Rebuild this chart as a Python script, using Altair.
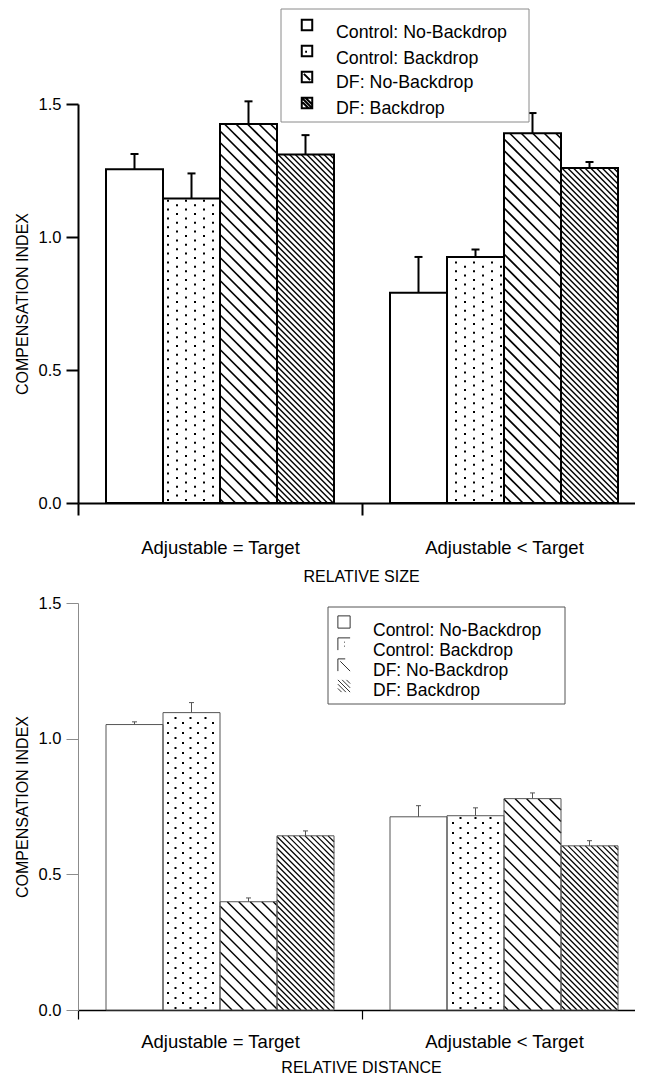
import altair as alt
import numpy as np
import pandas as pd

# ---------------- data ----------------
GROUPS = ["Adjustable = Target", "Adjustable < Target"]
CONDITIONS = ["Control: No-Backdrop", "Control: Backdrop", "DF: No-Backdrop", "DF: Backdrop"]

# top panel: RELATIVE SIZE
size_eq_mean = [1.255, 1.145, 1.425, 1.310]
size_eq_sem = [0.057, 0.094, 0.085, 0.073]
size_lt_mean = [0.790, 0.925, 1.390, 1.259]
size_lt_sem = [0.135, 0.028, 0.076, 0.023]

# bottom panel: RELATIVE DISTANCE
dist_eq_mean = [1.052, 1.096, 0.399, 0.642]
dist_eq_sem = [0.010, 0.037, 0.014, 0.018]
dist_lt_mean = [0.712, 0.716, 0.779, 0.605]
dist_lt_sem = [0.041, 0.029, 0.021, 0.019]

Y_TICKS = [0.0, 0.5, 1.0, 1.5]
Y_MAX = 1.5

# ---------------- layout / style ----------------
FONT = "Liberation Sans"
PLOT_W = 557
BAND_PX = 284.0
X_MAX = PLOT_W / BAND_PX
BAR_PAD = 28 / BAND_PX
BAR_W = 57 / BAND_PX


def bar_table(eq_mean, eq_sem, lt_mean, lt_sem, cap_half_px):
    cap_half = cap_half_px / BAND_PX
    rows = []
    for gi, (means, sems) in enumerate([(eq_mean, eq_sem), (lt_mean, lt_sem)]):
        for ci, cond in enumerate(CONDITIONS):
            x0 = gi + BAR_PAD + ci * BAR_W
            x1 = x0 + BAR_W
            xc = (x0 + x1) / 2
            m, s = means[ci], sems[ci]
            rows.append(dict(group=GROUPS[gi], cond=cond, x0=x0, x1=x1, xc=xc,
                             base=0.0, mean=m, top=m + s,
                             cap0=xc - cap_half, cap1=xc + cap_half))
    return pd.DataFrame(rows)


def hatch_table(bars, cond, spacing, H):
    sy = H / Y_MAX
    segs = []
    for r in bars[bars.cond == cond].itertuples():
        px0, px1 = r.x0 * BAND_PX, r.x1 * BAND_PX
        pyt, pyb = H - r.mean * sy, H
        k0 = int(np.floor((px0 - pyb) / spacing)) - 1
        k1 = int(np.ceil((px1 - pyt) / spacing)) + 1
        for k in range(k0, k1 + 1):
            c = k * spacing
            lo = max(pyt, px0 - c)
            hi = min(pyb, px1 - c)
            if hi - lo > 0.8:
                segs.append(dict(hx0=(lo + c) / BAND_PX, hx1=(hi + c) / BAND_PX,
                                 hy0=(H - lo) / sy, hy1=(H - hi) / sy))
    return pd.DataFrame(segs)


def dot_table(bars, cond, period, row_gap, H, margin=2.0):
    sy = H / Y_MAX
    pts = []
    for r in bars[bars.cond == cond].itertuples():
        px0, px1 = r.x0 * BAND_PX + margin, r.x1 * BAND_PX - margin
        pyt, pyb = H - r.mean * sy + margin, H - margin
        j0 = int(np.ceil(pyt / row_gap))
        j1 = int(np.floor(pyb / row_gap))
        for j in range(j0, j1 + 1):
            py = j * row_gap
            off = (period / 2) * (j % 2)
            i0 = int(np.ceil((px0 - off) / period))
            i1 = int(np.floor((px1 - off) / period))
            for i in range(i0, i1 + 1):
                px = i * period + off
                pts.append(dict(dx=px / BAND_PX, dy=(H - py) / sy))
    return pd.DataFrame(pts)


LABEL_EXPR = ("datum.value == 0.5 ? '%s' : (datum.value == 1.5 ? '%s' : '')"
              % (GROUPS[0], GROUPS[1]))
TICK_OPACITY = {"condition": {"test": "datum.value == 0.5 || datum.value == 1.5", "value": 0},
                "value": 1}

ONE = pd.DataFrame([{"k": 0}])


def legend_layers(leg):
    b = leg["box"]
    layers = [alt.Chart(ONE).mark_rect(fill="white", stroke=leg["stroke"], strokeWidth=1).encode(
        x=alt.value(b[0]), x2=alt.value(b[1]), y=alt.value(b[2]), y2=alt.value(b[3]))]
    for i, cond in enumerate(CONDITIONS):
        layers.append(alt.Chart(ONE).mark_point(
            filled=False, opacity=1, color=leg["sym_color"], strokeWidth=leg["sym_w"],
            size=leg["sym_size"], shape=leg["paths"][i]).encode(
            x=alt.value(leg["sx"]), y=alt.value(leg["sy"][i])))
        layers.append(alt.Chart(ONE).mark_text(
            align="left", baseline="middle", font=FONT, fontSize=leg["fs"], color="black",
            text=cond).encode(x=alt.value(leg["tx"]), y=alt.value(leg["ty"][i])))
    return layers


def panel(bars, H, st, x_title, leg):
    xs = alt.Scale(domain=[0, X_MAX], nice=False, zero=False)
    ys = alt.Scale(domain=[0, Y_MAX], nice=False)

    x_axis = alt.Axis(values=[0, 0.5, 1, 1.5], labelExpr=LABEL_EXPR, tickOpacity=TICK_OPACITY,
                      tickSize=st["xtick"], tickWidth=st["xtickw"], tickColor="black",
                      domainColor="black", domainWidth=st["xdomw"], grid=False,
                      labelFont=FONT, labelFontSize=18.5, labelColor="black",
                      labelPadding=st["xlabpad"], labelFlush=False, labelOverlap=False,
                      title=x_title, titleFont=FONT, titleFontSize=16, titleFontWeight="normal",
                      titleColor="black", titlePadding=st["xtitlepad"], titleX=363 - 80)
    y_axis = alt.Axis(values=Y_TICKS, format=".1f", tickSize=12, tickWidth=st["ytickw"],
                      tickColor=st["ycolor"], domainColor=st["ycolor"], domainWidth=st["ydomw"],
                      grid=False, labelFont=FONT, labelFontSize=16.5, labelColor="black",
                      labelPadding=5, labelFlush=False, labelOverlap=False,
                      title="COMPENSATION INDEX", titleFont=FONT, titleFontSize=16,
                      titleFontWeight="normal", titleColor="black", titlePadding=8)

    def X(f):
        return alt.X(f, scale=xs, axis=x_axis)

    def Y(f):
        return alt.Y(f, scale=ys, axis=y_axis)

    fills = alt.Chart(bars).mark_rect(fill="white", strokeWidth=0).encode(
        x=X("x0:Q"), x2="x1", y=Y("mean:Q"), y2="base")

    hatch1 = alt.Chart(hatch_table(bars, CONDITIONS[2], 11.5, H)).mark_rule(
        color="black", strokeWidth=st["hatchw"]).encode(
        x=X("hx0:Q"), x2="hx1", y=Y("hy0:Q"), y2="hy1")
    hatch2 = alt.Chart(hatch_table(bars, CONDITIONS[3], 5.75, H)).mark_rule(
        color="black", strokeWidth=st["hatchw2"]).encode(
        x=X("hx0:Q"), x2="hx1", y=Y("hy0:Q"), y2="hy1")
    dots = alt.Chart(dot_table(bars, CONDITIONS[1], st["dot_period"], st["dot_row"], H)).mark_square(
        size=4, color="black", opacity=1).encode(x=X("dx:Q"), y=Y("dy:Q"))

    outline = alt.Chart(bars).mark_rect(fillOpacity=0, stroke=st["bar_stroke"],
                                        strokeWidth=st["bar_w"]).encode(
        x=X("x0:Q"), x2="x1", y=Y("mean:Q"), y2="base")
    err = alt.Chart(bars).mark_rule(color=st["bar_stroke"], strokeWidth=st["err_w"]).encode(
        x=X("xc:Q"), y=Y("mean:Q"), y2="top")
    cap = alt.Chart(bars).mark_rule(color=st["bar_stroke"], strokeWidth=st["err_w"]).encode(
        x=X("cap0:Q"), x2="cap1", y=Y("top:Q"))

    return alt.layer(fills, hatch1, hatch2, dots, outline, err, cap,
                     *legend_layers(leg)).properties(width=PLOT_W, height=H)


SQ = "M-1,-1H1V1H-1Z"
top_leg = dict(
    box=(203, 451, -95, 18),
    sx=229, sy=[-79, -53, -27, -1], tx=258, ty=[-71, -45, -21, 5],
    paths=[SQ, SQ + "M-0.35,0.15h0.35", SQ + "M-0.6,-0.6L0.6,0.6",
           SQ + "M-1,-0.3L0.3,1M-1,-1L1,1M-0.3,-1L1,0.3"],
    stroke="#8a8a8a", sym_color="black", sym_w=2, sym_size=110, fs=17.8)
bot_leg = dict(
    box=(250, 487, 4, 101),
    sx=266, sy=[19, 41, 62, 83], tx=295, ty=[28, 48, 68, 88],
    paths=[SQ, "M-1,-1V1M-1,-1H1M0,-0.3h0.15M0,0.35h0.15",
           "M-1,1V-1H0.2M-0.6,-0.6L1,1",
           "M-1,-0.3L0.3,1M-1,-1L1,1M-0.3,-1L1,0.3M-1,0.4L-0.4,1M0.4,-1L1,-0.4"],
    stroke="#555555", sym_color="#333333", sym_w=1, sym_size=150, fs=17.5)

top_style = dict(xtick=12, xtickw=2, xdomw=2, xlabpad=23, xtitlepad=12, ytickw=2, ycolor="black",
                 ydomw=2, hatchw=1.6, hatchw2=1.4, dot_period=18, dot_row=4.4,
                 bar_stroke="black", bar_w=2, err_w=2)
bot_style = dict(xtick=9, xtickw=1.2, xdomw=1.5, xlabpad=13, xtitlepad=9, ytickw=1,
                 ycolor="#8c8c8c", ydomw=1, hatchw=1.4, hatchw2=1.2, dot_period=15, dot_row=5,
                 bar_stroke="#555555", bar_w=1, err_w=1)

H_TOP = 399
H_BOT = 407
size_bars = bar_table(size_eq_mean, size_eq_sem, size_lt_mean, size_lt_sem, 4)
dist_bars = bar_table(dist_eq_mean, dist_eq_sem, dist_lt_mean, dist_lt_sem, 2.5)

top = panel(size_bars, H_TOP, top_style, "RELATIVE SIZE", top_leg)
bottom = panel(dist_bars, H_BOT, bot_style, "RELATIVE DISTANCE", bot_leg)

chart = alt.vconcat(top, bottom, spacing=10).properties(
    padding={"left": 6, "top": 0, "right": 0, "bottom": -1}
).configure(font=FONT).configure_view(stroke=None)

chart.save("out.html", embed_options={"renderer": "svg", "actions": False})
